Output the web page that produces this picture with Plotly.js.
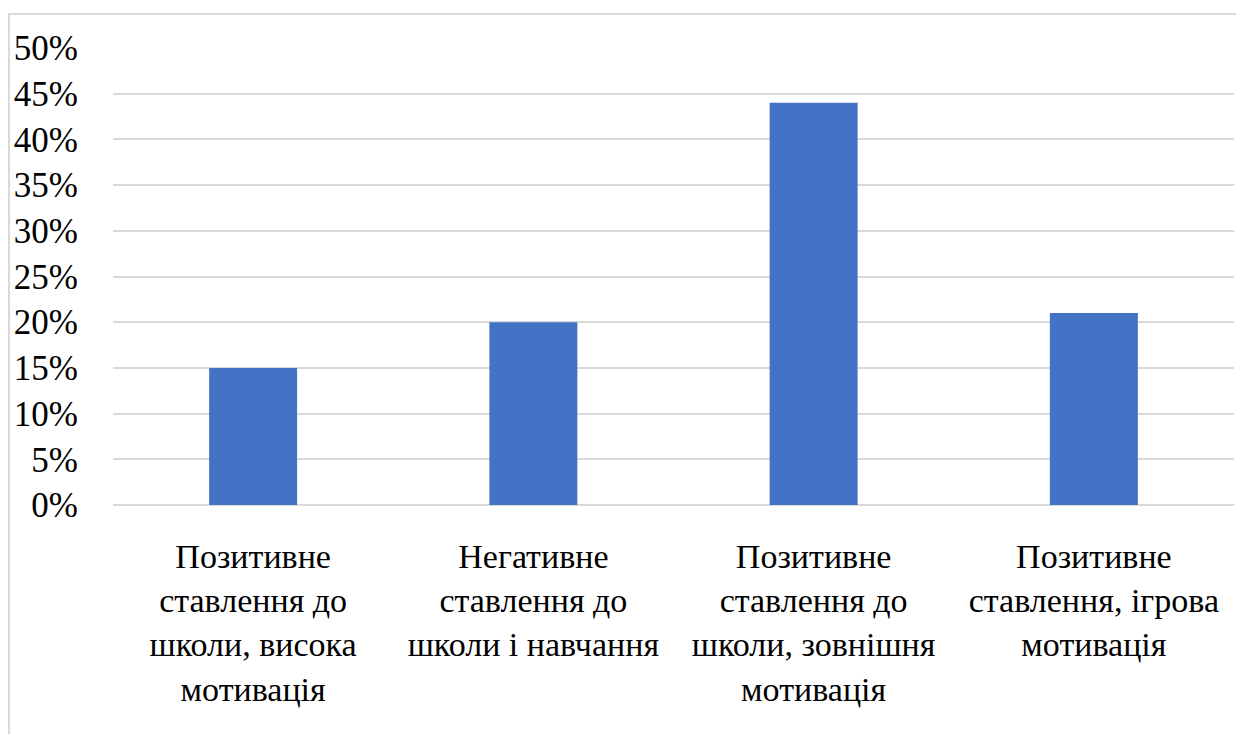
<!DOCTYPE html>
<html>
<head>
<meta charset="utf-8">
<script src="https://cdn.plot.ly/plotly-3.0.1.min.js"></script>
<style>
html,body{margin:0;padding:0;background:#fff;}
#frame{position:absolute;left:8px;top:13px;width:1240px;height:740px;border-top:2px solid #d9d9d9;border-left:2px solid #d9d9d9;pointer-events:none;z-index:5;}
#chart{position:absolute;left:0;top:0;width:1236px;height:734px;}
</style>
</head>
<body>
<div id="chart"></div>
<div id="frame"></div>
<script>
var categories = ["cat1", "cat2", "cat3", "cat4"];
var categoryLabels = [
  "Позитивне<br>ставлення до<br>школи, висока<br>мотивація",
  "Негативне<br>ставлення до<br>школи і навчання",
  "Позитивне<br>ставлення до<br>школи, зовнішня<br>мотивація",
  "Позитивне<br>ставлення, ігрова<br>мотивація"
];
var values = [0.15, 0.20, 0.44, 0.21];
var yTickValues = [0, 0.05, 0.10, 0.15, 0.20, 0.25, 0.30, 0.35, 0.40, 0.45, 0.50];
var yTickLabels = ["0%", "5%", "10%", "15%", "20%", "25%", "30%", "35%", "40%", "45%", "50%"];

var font = "Liberation Serif";

var data = [{
  type: 'bar',
  x: categories,
  y: values,
  marker: {color: '#4472C4'},
  hoverinfo: 'none'
}];

var layout = {
  width: 1236, height: 734,
  margin: {l: 113, r: 2, t: 48, b: 229},
  paper_bgcolor: 'rgba(0,0,0,0)',
  plot_bgcolor: 'rgba(0,0,0,0)',
  font: {family: font},
  bargap: 0.686,
  showlegend: false,
  xaxis: {
    type: 'category',
    tickvals: categories,
    ticktext: categoryLabels,
    tickangle: 0,
    showgrid: false,
    showline: false,
    zeroline: false,
    ticks: '',
    ticklabelstandoff: 28,
    tickfont: {family: font, size: 34, color: '#000'}
  },
  yaxis: {
    range: [0, 0.5],
    tickvals: yTickValues,
    ticktext: yTickLabels,
    showgrid: true,
    gridcolor: '#d9d9d9',
    gridwidth: 2,
    zeroline: true,
    zerolinecolor: '#d9d9d9',
    zerolinewidth: 2,
    showline: false,
    ticks: '',
    ticklabelstandoff: 34,
    tickfont: {family: font, size: 35, color: '#000'}
  }
};

Plotly.newPlot('chart', data, layout, {displayModeBar: false, staticPlot: true});
</script>
</body>
</html>
